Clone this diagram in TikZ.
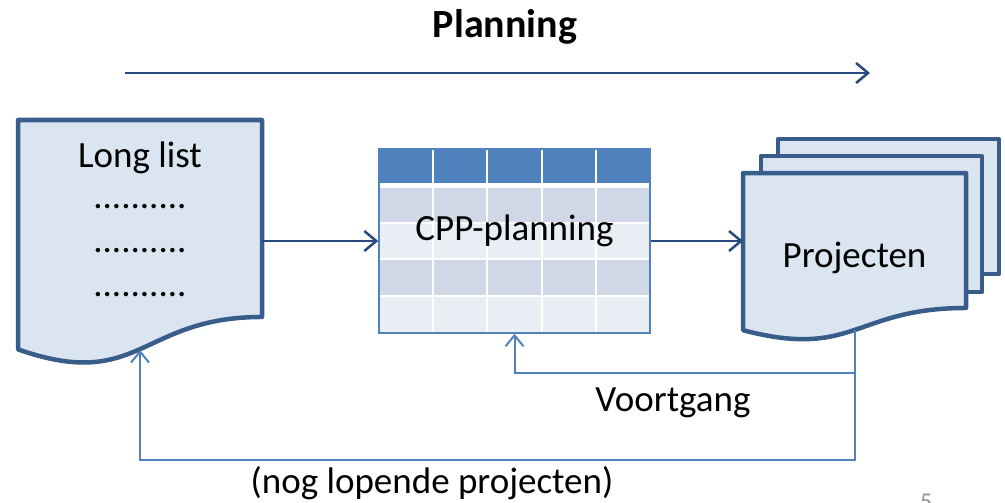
\documentclass[tikz,border=0pt]{standalone}
\usepackage{fontspec}
\setmainfont{Carlito}
\usetikzlibrary{positioning, arrows.meta}
\definecolor{doc_border}{RGB}{56, 93, 138}
\definecolor{doc_fill}{RGB}{219, 229, 241}
\definecolor{table_blue}{RGB}{79, 129, 189}
\definecolor{row_dark}{RGB}{208, 216, 232}
\definecolor{row_light}{RGB}{233, 237, 244}
\definecolor{flow_blue}{RGB}{41, 74, 128}
\definecolor{page_gray}{RGB}{150, 150, 150}
\tikzstyle{doc}=[draw=doc_border, fill=doc_fill, line width=4.5pt, line join=round]
\tikzstyle{docframe}=[inner sep=0pt, outer sep=0pt]
\tikzstyle{cell}=[draw=white, line width=2pt]
\tikzstyle{txt}=[font=\fontsize{37}{44}\selectfont, anchor=base]
\tikzstyle{flow}=[-{Straight Barb[length=12pt, width=20pt]}, color=flow_blue, line width=2.5pt]
\tikzstyle{feedback}=[-{Straight Barb[length=11pt, width=18pt]}, color=table_blue, line width=2pt]
% document outline: left, top, right, height
\newcommand{\docshape}[4]{%
  \draw[doc] (#1,#2) -- (#3,#2) -- (#3,{#2+0.802*#4})
    .. controls ({(#1+#3)/2},{#2+0.802*#4}) and ({(#1+#3)/2},{#2+1.1075*#4}) .. (#1,{#2+0.934*#4}) -- cycle;}

\begin{document}
\begin{tikzpicture}[x=1pt, y=-1pt]
            \useasboundingbox (0,0) rectangle (1005,503);
            % title and time axis
            \node[font=\bfseries\fontsize{40}{48}\selectfont, anchor=base] (title) at (505,38) {Planning};
            \coordinate (axis_start) at (125,73);
            \coordinate (axis_end) at (870,73);
            \draw[flow] (axis_start) -- (axis_end);
            % long list
            \docshape{18}{120}{262}{245.6}
            \node[docframe, minimum width=244, minimum height=230] (longlist) at (140,235) {};
            \node[txt] (longlist_title) at (140,167) {Long list};
            \foreach \y [count=\i] in {207,251,295}
                \node[font=\fontsize{37}{44}\selectfont] (dots\i) at (140,\y) {..........};
            % table
            \foreach \r/\col in {0/table_blue, 1/row_dark, 2/row_light, 3/row_dark, 4/row_light}
                \foreach \c in {0,...,4}
                    \draw[cell, fill=\col] (379+\c*54.2, 149+\r*36.8) rectangle ++(54.2,36.8);
            \draw[white, line width=5pt] (380,185.8) -- (649,185.8);
            \node[draw=table_blue, line width=1.5pt, minimum width=271, minimum height=184, inner sep=0pt] (cpp) at (514.5,241) {};
            \node[txt] (cpp_title) at (514.5,240) {CPP-planning};
            % projects
            \draw[doc] (778,139) rectangle (999,274);
            \draw[doc] (761,156) rectangle (982,292);
            \docshape{743}{173}{966}{168.3}
            \node[docframe, minimum width=223, minimum height=157] (projecten) at (854.5,251.5) {};
            \node[txt] (projecten_title) at (854.5,267) {Projecten};
            % connectors
            \draw[flow] (longlist.east |- cpp.west) -- (cpp.west);
            \draw[flow] (cpp.east) -- (projecten.west |- cpp.east);
            \draw[feedback] (projecten.south) -- ++(0,43) -| (cpp.south);
            \draw[feedback] (projecten.south) -- ++(0,130) -| (longlist.south);
            \node[txt] (voortgang) at (673,411) {Voortgang};
            \node[txt] (lopend) at (432,493) {(nog lopende projecten)};
            \node[font=\fontsize{24}{28}\selectfont, color=page_gray, anchor=north west, inner sep=0pt] (pagenum) at (920,494) {5};
        \end{tikzpicture}
\end{document}
